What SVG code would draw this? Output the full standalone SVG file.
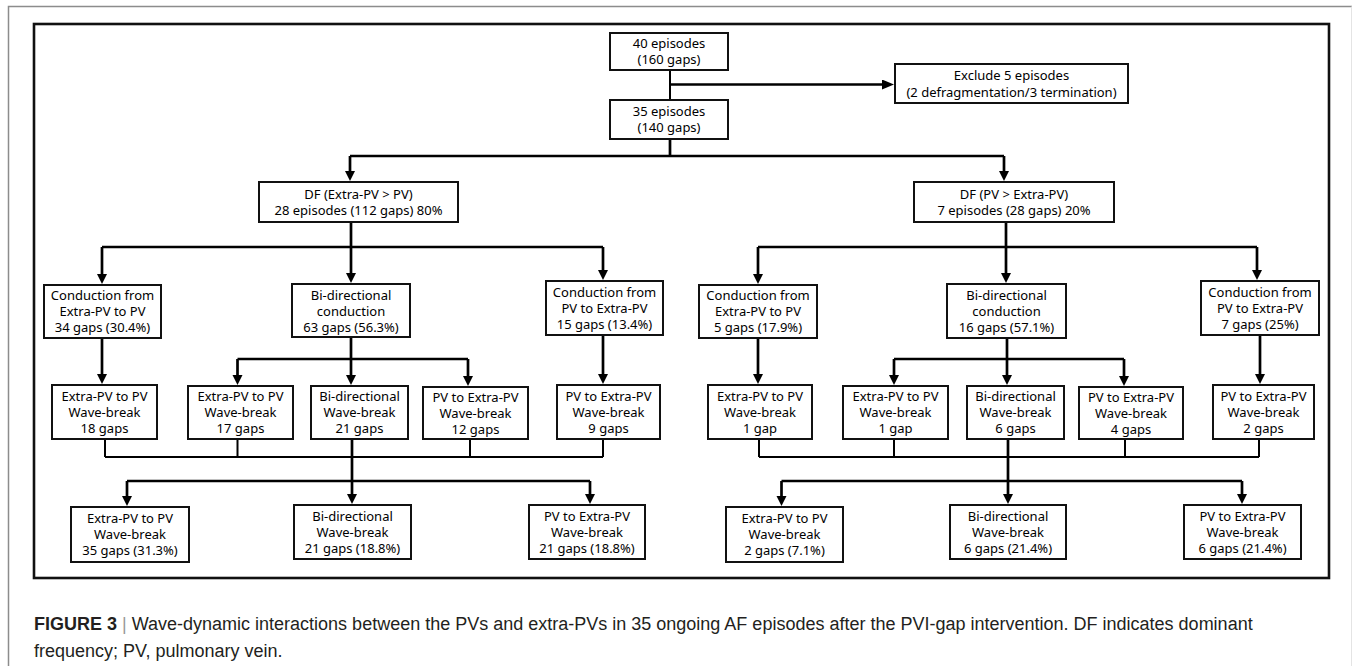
<svg xmlns="http://www.w3.org/2000/svg" width="1354" height="666" viewBox="0 0 1354 666">
<style>
.box{fill:#fff;stroke:#111;stroke-width:2}
.t{font-family:"Noto Sans","Open Sans","DejaVu Sans",sans-serif;font-size:13px;fill:#000;text-anchor:middle}
.a{fill:none;stroke:#000;stroke-width:2.7}
.l{fill:none;stroke:#000;stroke-width:2}
.cap{font-family:"Liberation Sans",Arial,sans-serif;font-size:18px;fill:#231f20}
</style>
<defs>
<marker id="ah" markerUnits="userSpaceOnUse" markerWidth="12" markerHeight="12" refX="4" refY="5" orient="auto">
<path d="M0,0 L10,5 L0,10 z" fill="#000"/>
</marker>
<marker id="ahb" markerUnits="userSpaceOnUse" markerWidth="14" markerHeight="12" refX="5" refY="5" orient="auto">
<path d="M0,0 L12,5 L0,10 z" fill="#000"/>
</marker>
</defs>
<rect width="1354" height="666" fill="#fff"/>
<path d="M8.5,666 V6.5 H1352" fill="none" stroke="#8c8c8c" stroke-width="1.5"/>
<path d="M1351.5,6.5 V666" fill="none" stroke="#e4e4e4" stroke-width="1"/>
<rect x="34" y="24" width="1295" height="554" fill="none" stroke="#111" stroke-width="2.6"/>

<g id="connectors">
<path class="l" d="M670,70 V100"/>
<path class="a" d="M670,84.5 H887" marker-end="url(#ahb)"/>
<path class="a" d="M670,139 V156 M350,156 H1004"/>
<path class="a" d="M350,156 V175" marker-end="url(#ah)"/>
<path class="a" d="M1004,156 V175" marker-end="url(#ah)"/>
<!-- left -->
<path class="a" d="M351,222 V247 M102,247 H603"/>
<path class="a" d="M102,247 V278" marker-end="url(#ah)"/>
<path class="a" d="M351,247 V277" marker-end="url(#ah)"/>
<path class="a" d="M603,247 V274" marker-end="url(#ah)"/>
<path class="a" d="M102,338 V378" marker-end="url(#ah)"/>
<path class="a" d="M351,337 V359 M237.5,359 H468"/>
<path class="a" d="M237.5,359 V379" marker-end="url(#ah)"/>
<path class="a" d="M351,359 V379" marker-end="url(#ah)"/>
<path class="a" d="M468,359 V380" marker-end="url(#ah)"/>
<path class="a" d="M603,335 V378" marker-end="url(#ah)"/>
<path class="l" d="M105,439 V457 M237.5,439 V457 M470,439 V457 M603,439 V457 M105,457 H603"/>
<path class="a" d="M352,439 V481 M127,481 H590"/>
<path class="a" d="M127,481 V500" marker-end="url(#ah)"/>
<path class="a" d="M352,481 V498" marker-end="url(#ah)"/>
<path class="a" d="M590,481 V498" marker-end="url(#ah)"/>
<!-- right -->
<path class="a" d="M1006,222 V247 M758,247 H1257"/>
<path class="a" d="M758,247 V278" marker-end="url(#ah)"/>
<path class="a" d="M1006,247 V277" marker-end="url(#ah)"/>
<path class="a" d="M1257,247 V274" marker-end="url(#ah)"/>
<path class="a" d="M758,338 V378" marker-end="url(#ah)"/>
<path class="a" d="M1007,338 V359 M894,359 H1124"/>
<path class="a" d="M894,359 V379" marker-end="url(#ah)"/>
<path class="a" d="M1007,359 V379" marker-end="url(#ah)"/>
<path class="a" d="M1124,359 V380" marker-end="url(#ah)"/>
<path class="a" d="M1260,335 V378" marker-end="url(#ah)"/>
<path class="l" d="M759,439 V457 M894,439 V457 M1125,439 V457 M1259,439 V457 M759,457 H1259"/>
<path class="a" d="M1008,439 V481 M781.5,481 H1242"/>
<path class="a" d="M781.5,481 V500" marker-end="url(#ah)"/>
<path class="a" d="M1008,481 V498" marker-end="url(#ah)"/>
<path class="a" d="M1242,481 V498" marker-end="url(#ah)"/>
</g>

<g id="n-40"><rect class="box" x="610" y="33" width="118" height="37"/><text class="t" x="669" y="48">40 episodes</text><text class="t" x="669" y="64">(160 gaps)</text></g>
<g id="n-35"><rect class="box" x="610" y="100" width="118" height="39"/><text class="t" x="669" y="116">35 episodes</text><text class="t" x="669" y="132">(140 gaps)</text></g>
<g id="n-exclude"><rect class="box" x="895" y="64" width="233" height="39"/><text class="t" x="1011.5" y="80">Exclude 5 episodes</text><text class="t" x="1011.5" y="97">(2 defragmentation/3 termination)</text></g>

<g id="n-dfL"><rect class="box" x="259" y="182" width="199" height="40"/><text class="t" x="358.5" y="198.5">DF (Extra-PV &gt; PV)</text><text class="t" x="358.5" y="214.5">28 episodes (112 gaps) 80%</text></g>
<g id="n-dfR"><rect class="box" x="914" y="182" width="200" height="40"/><text class="t" x="1014" y="198.5">DF (PV &gt; Extra-PV)</text><text class="t" x="1014" y="214.5">7 episodes (28 gaps) 20%</text></g>

<g id="n-L1"><rect class="box" x="44" y="285" width="117" height="53"/><text class="t" x="102.5" y="300">Conduction from</text><text class="t" x="102.5" y="316">Extra-PV to PV</text><text class="t" x="102.5" y="332">34 gaps (30.4%)</text></g>
<g id="n-L2"><rect class="box" x="292" y="284" width="118" height="53"/><text class="t" x="351" y="299.5">Bi-directional</text><text class="t" x="351" y="315.5">conduction</text><text class="t" x="351" y="331.5">63 gaps (56.3%)</text></g>
<g id="n-L3"><rect class="box" x="546" y="281" width="117" height="54"/><text class="t" x="604.5" y="297">Conduction from</text><text class="t" x="604.5" y="313">PV to Extra-PV</text><text class="t" x="604.5" y="329">15 gaps (13.4%)</text></g>

<g id="n-L1a"><rect class="box" x="52" y="385" width="105" height="54"/><text class="t" x="104.5" y="400.5">Extra-PV to PV</text><text class="t" x="104.5" y="416.5">Wave-break</text><text class="t" x="104.5" y="432.5">18 gaps</text></g>
<g id="n-L2a"><rect class="box" x="188" y="386" width="105" height="53"/><text class="t" x="240.5" y="401">Extra-PV to PV</text><text class="t" x="240.5" y="417">Wave-break</text><text class="t" x="240.5" y="433">17 gaps</text></g>
<g id="n-L2b"><rect class="box" x="311" y="386" width="97" height="53"/><text class="t" x="359.5" y="401">Bi-directional</text><text class="t" x="359.5" y="417">Wave-break</text><text class="t" x="359.5" y="433">21 gaps</text></g>
<g id="n-L2c"><rect class="box" x="423" y="387" width="105" height="52"/><text class="t" x="475.5" y="402">PV to Extra-PV</text><text class="t" x="475.5" y="418">Wave-break</text><text class="t" x="475.5" y="434">12 gaps</text></g>
<g id="n-L3a"><rect class="box" x="557" y="385" width="103" height="54"/><text class="t" x="608.5" y="400.5">PV to Extra-PV</text><text class="t" x="608.5" y="416.5">Wave-break</text><text class="t" x="608.5" y="432.5">9 gaps</text></g>

<g id="n-LB1"><rect class="box" x="71" y="507" width="118" height="55"/><text class="t" x="130" y="523">Extra-PV to PV</text><text class="t" x="130" y="539">Wave-break</text><text class="t" x="130" y="555">35 gaps (31.3%)</text></g>
<g id="n-LB2"><rect class="box" x="294" y="505" width="117" height="54"/><text class="t" x="352.5" y="520.5">Bi-directional</text><text class="t" x="352.5" y="536.5">Wave-break</text><text class="t" x="352.5" y="552.5">21 gaps (18.8%)</text></g>
<g id="n-LB3"><rect class="box" x="529" y="505" width="116" height="54"/><text class="t" x="587" y="520.5">PV to Extra-PV</text><text class="t" x="587" y="536.5">Wave-break</text><text class="t" x="587" y="552.5">21 gaps (18.8%)</text></g>

<g id="n-R1"><rect class="box" x="699" y="285" width="118" height="53"/><text class="t" x="758" y="300">Conduction from</text><text class="t" x="758" y="316">Extra-PV to PV</text><text class="t" x="758" y="332">5 gaps (17.9%)</text></g>
<g id="n-R2"><rect class="box" x="947" y="284" width="119" height="54"/><text class="t" x="1006.5" y="299.5">Bi-directional</text><text class="t" x="1006.5" y="315.5">conduction</text><text class="t" x="1006.5" y="331.5">16 gaps (57.1%)</text></g>
<g id="n-R3"><rect class="box" x="1201" y="281" width="118" height="54"/><text class="t" x="1260" y="297">Conduction from</text><text class="t" x="1260" y="313">PV to Extra-PV</text><text class="t" x="1260" y="329">7 gaps (25%)</text></g>

<g id="n-R1a"><rect class="box" x="708" y="385" width="104" height="54"/><text class="t" x="760" y="400.5">Extra-PV to PV</text><text class="t" x="760" y="416.5">Wave-break</text><text class="t" x="760" y="432.5">1 gap</text></g>
<g id="n-R2a"><rect class="box" x="843" y="386" width="105" height="53"/><text class="t" x="895.5" y="401">Extra-PV to PV</text><text class="t" x="895.5" y="417">Wave-break</text><text class="t" x="895.5" y="433">1 gap</text></g>
<g id="n-R2b"><rect class="box" x="967" y="386" width="97" height="53"/><text class="t" x="1015.5" y="401">Bi-directional</text><text class="t" x="1015.5" y="417">Wave-break</text><text class="t" x="1015.5" y="433">6 gaps</text></g>
<g id="n-R2c"><rect class="box" x="1079" y="387" width="104" height="52"/><text class="t" x="1131" y="402">PV to Extra-PV</text><text class="t" x="1131" y="418">Wave-break</text><text class="t" x="1131" y="434">4 gaps</text></g>
<g id="n-R3a"><rect class="box" x="1213" y="385" width="101" height="54"/><text class="t" x="1263.5" y="400.5">PV to Extra-PV</text><text class="t" x="1263.5" y="416.5">Wave-break</text><text class="t" x="1263.5" y="432.5">2 gaps</text></g>

<g id="n-RB1"><rect class="box" x="726" y="507" width="117" height="55"/><text class="t" x="784.5" y="523">Extra-PV to PV</text><text class="t" x="784.5" y="539">Wave-break</text><text class="t" x="784.5" y="555">2 gaps (7.1%)</text></g>
<g id="n-RB2"><rect class="box" x="950" y="505" width="116" height="54"/><text class="t" x="1008" y="520.5">Bi-directional</text><text class="t" x="1008" y="536.5">Wave-break</text><text class="t" x="1008" y="552.5">6 gaps (21.4%)</text></g>
<g id="n-RB3"><rect class="box" x="1184" y="505" width="117" height="54"/><text class="t" x="1242.5" y="520.5">PV to Extra-PV</text><text class="t" x="1242.5" y="536.5">Wave-break</text><text class="t" x="1242.5" y="552.5">6 gaps (21.4%)</text></g>

<g id="caption">
<text class="cap" x="34" y="630"><tspan font-weight="bold">FIGURE 3</tspan><tspan fill="#999"> | </tspan>Wave-dynamic interactions between the PVs and extra-PVs in 35 ongoing AF episodes after the PVI-gap intervention. DF indicates dominant</text>
<text class="cap" x="34" y="657">frequency; PV, pulmonary vein.</text>
</g>
</svg>
